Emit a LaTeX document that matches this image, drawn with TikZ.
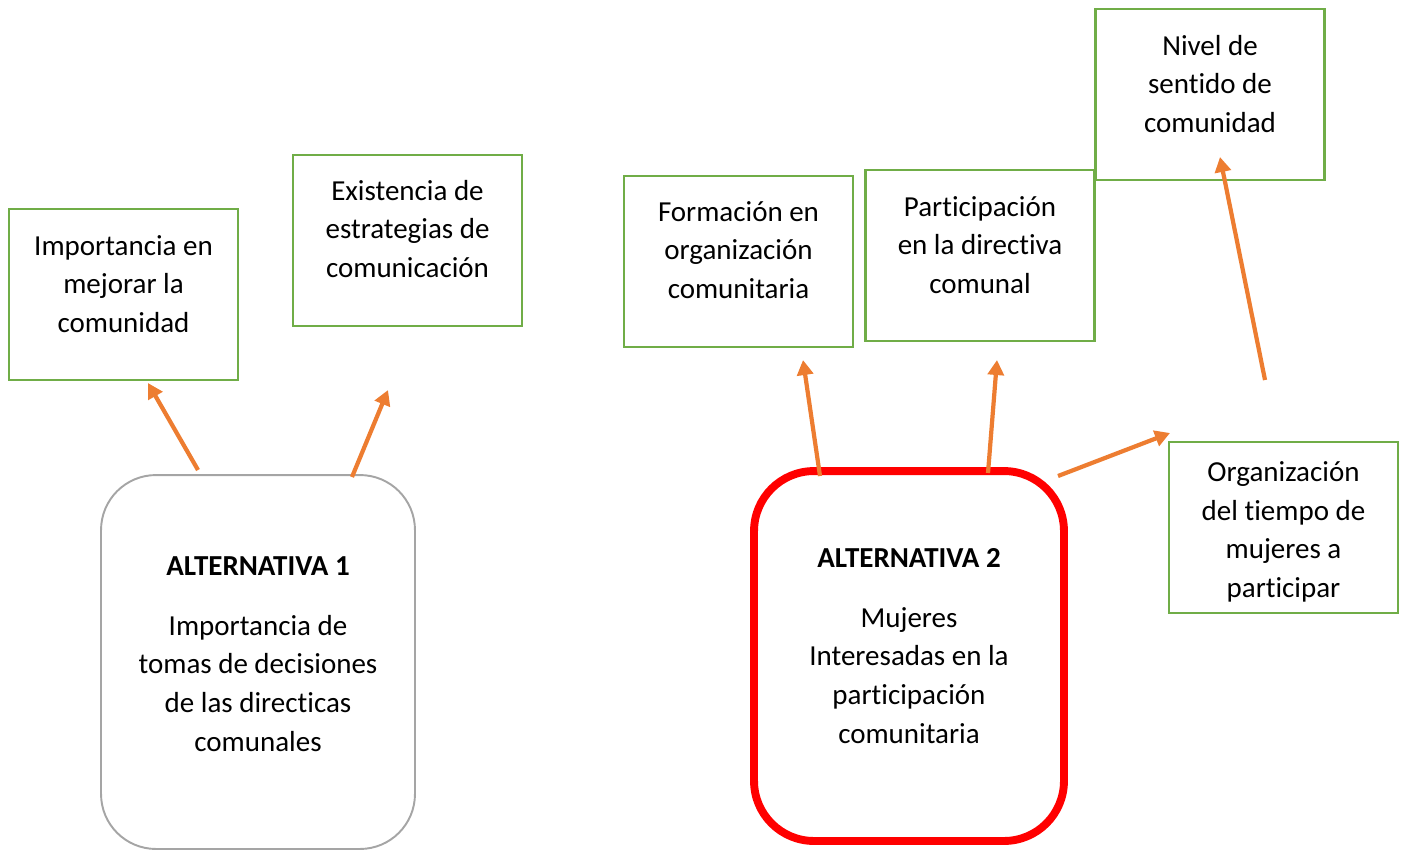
\documentclass[tikz,border=0pt]{standalone}
\usepackage{fontspec}
\setmainfont{Carlito}[Ligatures=NoCommon]
\usetikzlibrary{arrows.meta}
\definecolor{verde}{HTML}{70AD47}
\definecolor{naranja}{HTML}{ED7D31}
\definecolor{gris}{HTML}{A5A5A5}
\tikzset{
  caja/.style={draw=verde, line width=1.4pt, minimum width=4.58cm, minimum height=3.42cm},
  texto/.style={align=center, font=\fontsize{16.5}{22}\selectfont},
  flecha/.style={naranja, line width=2.4pt, -{Triangle[length=0.3cm, width=0.32cm]}},
}
\begin{document}
\begin{tikzpicture}[x=0.02cm, y=-0.02cm]

    \useasboundingbox (0,0) rectangle (1406,850);

    % 1. Alternativas
    \node[draw=gris, line width=1.1pt, rounded corners=1.1cm, minimum width=6.28cm, minimum height=7.48cm] (alt1) at (258,662) {};
    \node[draw=red, line width=4.5pt, rounded corners=1.2cm, minimum width=6.2cm, minimum height=7.4cm] (alt2) at (909,656) {};
    \node[texto] (t-alt1) at (258,654) {\textbf{ALTERNATIVA 1}\\[12pt] Importancia de\\ tomas de decisiones\\ de las directicas\\ comunales};
    \node[texto] (t-alt2) at (909,646) {\textbf{ALTERNATIVA 2}\\[12pt] Mujeres\\ Interesadas en la\\ participación\\ comunitaria};

    % 2. Cajas verdes
    \node[caja] (imp) at (123.5,294.5) {};
    \node[caja] (exist) at (407.5,240.5) {};
    \node[caja] (form) at (738.5,261.5) {};
    \node[caja] (part) at (980,255.5) {};
    \node[caja] (nivel) at (1210,94.5) {};
    \node[caja] (org) at (1283.5,527.5) {};

    \node[texto] (t-imp) at (123.5,284) {Importancia en\\ mejorar la\\ comunidad};
    \node[texto] (t-exist) at (407.5,229) {Existencia de\\ estrategias de\\ comunicación};
    \node[texto] (t-form) at (738.5,250) {Formación en\\ organización\\ comunitaria};
    \node[texto] (t-part) at (980,245) {Participación\\ en la directiva\\ comunal};
    \node[texto] (t-nivel) at (1210,84) {Nivel de\\ sentido de\\ comunidad};
    \node[texto] (t-org) at (1283.5,532) {Organización\\ del tiempo de\\ mujeres a\\ participar};

    % 3. Flechas
    \coordinate (s1) at (198,470);  \coordinate (e1) at (148,383);
    \coordinate (s2) at (352,477);  \coordinate (e2) at (388,390);
    \coordinate (s3) at (820,476);  \coordinate (e3) at (803,360);
    \coordinate (s4) at (988,473);  \coordinate (e4) at (997,360);
    \coordinate (s5) at (1058,476); \coordinate (e5) at (1170,433);
    \coordinate (s6) at (1265,380); \coordinate (e6) at (1220,157);

    \foreach \i in {1,...,6}
        \draw[flecha] (s\i) -- (e\i);

\end{tikzpicture}
\end{document}
